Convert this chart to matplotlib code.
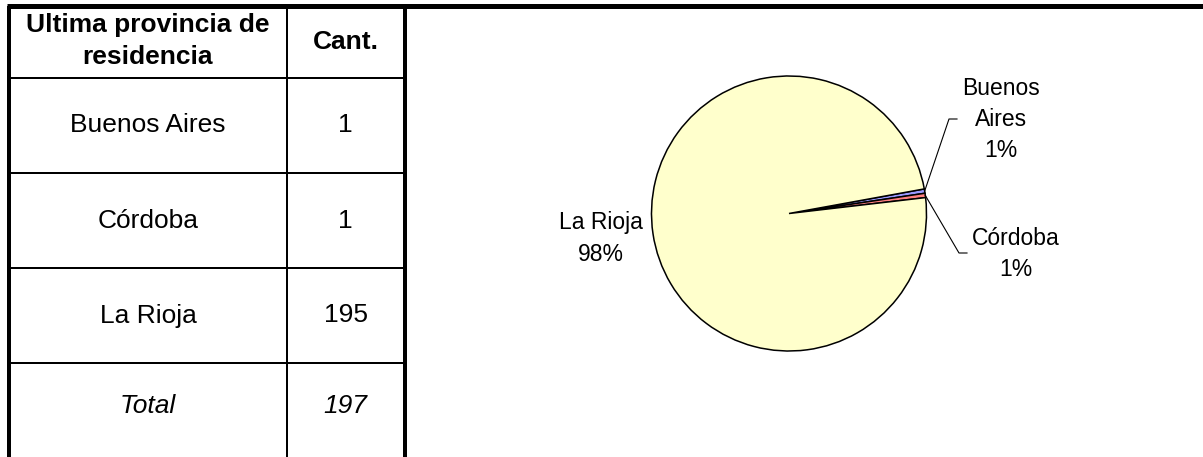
import matplotlib
matplotlib.use("Agg")
import matplotlib.pyplot as plt
import numpy as np

# ---- data ----
provinces = ["Buenos Aires", "Córdoba", "La Rioja"]
counts = [1, 1, 195]
total_label = "Total"
total_value = 197
header_labels = ["Ultima provincia de\nresidencia", "Cant."]
pie_labels = ["Buenos\nAires", "Córdoba", "La Rioja"]
pct_labels = ["1%", "1%", "98%"]
colors = ["#9999FF", "#FF8080", "#FFFFCC"]

W, H = 1203, 457
fig = plt.figure(figsize=(W / 100, H / 100), dpi=100)
plt.rcParams['font.family'] = ['Liberation Sans', 'DejaVu Sans']

px = 0.72  # points per pixel at dpi 100

# ---- background axes in pixel coordinates (table) ----
bg = fig.add_axes([0, 0, 1, 1])
bg.set_xlim(0, W)
bg.set_ylim(H, 0)
bg.axis('off')

col_x = [9, 287, 404.5]
row_y = [5.5, 78, 173, 268, 363, H]

# borders
bg.plot([7, W], [row_y[0], row_y[0]], color='black', lw=5 * px, solid_capstyle='butt')
bg.plot([col_x[0], col_x[0]], [row_y[0], H], color='black', lw=4 * px, solid_capstyle='butt')
bg.plot([col_x[2], col_x[2]], [row_y[0], H], color='black', lw=4 * px, solid_capstyle='butt')
bg.plot([col_x[1], col_x[1]], [row_y[0], H], color='black', lw=2 * px, solid_capstyle='butt')
for y in row_y[1:-1]:
    bg.plot([col_x[0], col_x[2]], [y, y], color='black', lw=2 * px, solid_capstyle='butt')

c1 = (col_x[0] + col_x[1]) / 2
c2 = (col_x[1] + col_x[2]) / 2
fs_tab = 19
bg.text(c1, 41, header_labels[0], ha='center', va='center', fontsize=fs_tab,
        fontweight='bold', linespacing=1.4)
bg.text(c2, 42, header_labels[1], ha='center', va='center', fontsize=fs_tab,
        fontweight='bold')
for i, (p, c) in enumerate(zip(provinces, counts)):
    yc = (row_y[i + 1] + row_y[i + 2]) / 2
    bg.text(c1, yc, p, ha='center', va='center', fontsize=fs_tab)
    bg.text(c2, yc, str(c), ha='center', va='center', fontsize=fs_tab)
yt = 406
bg.text(c1, yt, total_label, ha='center', va='center', fontsize=fs_tab, style='italic')
bg.text(c2, yt, str(total_value), ha='center', va='center', fontsize=fs_tab, style='italic')

# ---- pie ----
cx, cy, R = 789, 213.5, 137.5
pax = fig.add_axes([(cx - R) / W, 1 - (cy + R) / H, 2 * R / W, 2 * R / H])
wedges, _ = pax.pie(counts, colors=colors, startangle=10.3, counterclock=False,
                    radius=1, wedgeprops=dict(edgecolor='black', linewidth=1.1))
pax.set_xlim(-1, 1)
pax.set_ylim(-1, 1)
pax.set_aspect('auto')
pax.axis('off')
for w in wedges:
    w.set_clip_on(False)


def to_data(x, y):
    return (x - cx) / R, (cy - y) / R


fs_pie = 16.5
# label positions (pixel layout)
label_pos = [(1001, 119.5), (1016, 254), (601, 238.5)]
elbows = [[(949, 119), (957, 119)], [(959, 253), (967, 253)], None]
for i, w in enumerate(wedges):
    lx, ly = to_data(*label_pos[i])
    pax.text(lx, ly, pie_labels[i] + "\n" + pct_labels[i],
             ha='center', va='center', fontsize=fs_pie, linespacing=1.45, clip_on=False)
    if elbows[i] is not None:
        mid = np.deg2rad((w.theta1 + w.theta2) / 2)
        sx, sy = np.cos(mid), np.sin(mid)
        pts = [(sx, sy)] + [to_data(*p) for p in elbows[i]]
        xs, ys = zip(*pts)
        pax.plot(xs, ys, color='black', lw=0.8, clip_on=False)

fig.savefig("out.png", dpi=100, facecolor='white')
